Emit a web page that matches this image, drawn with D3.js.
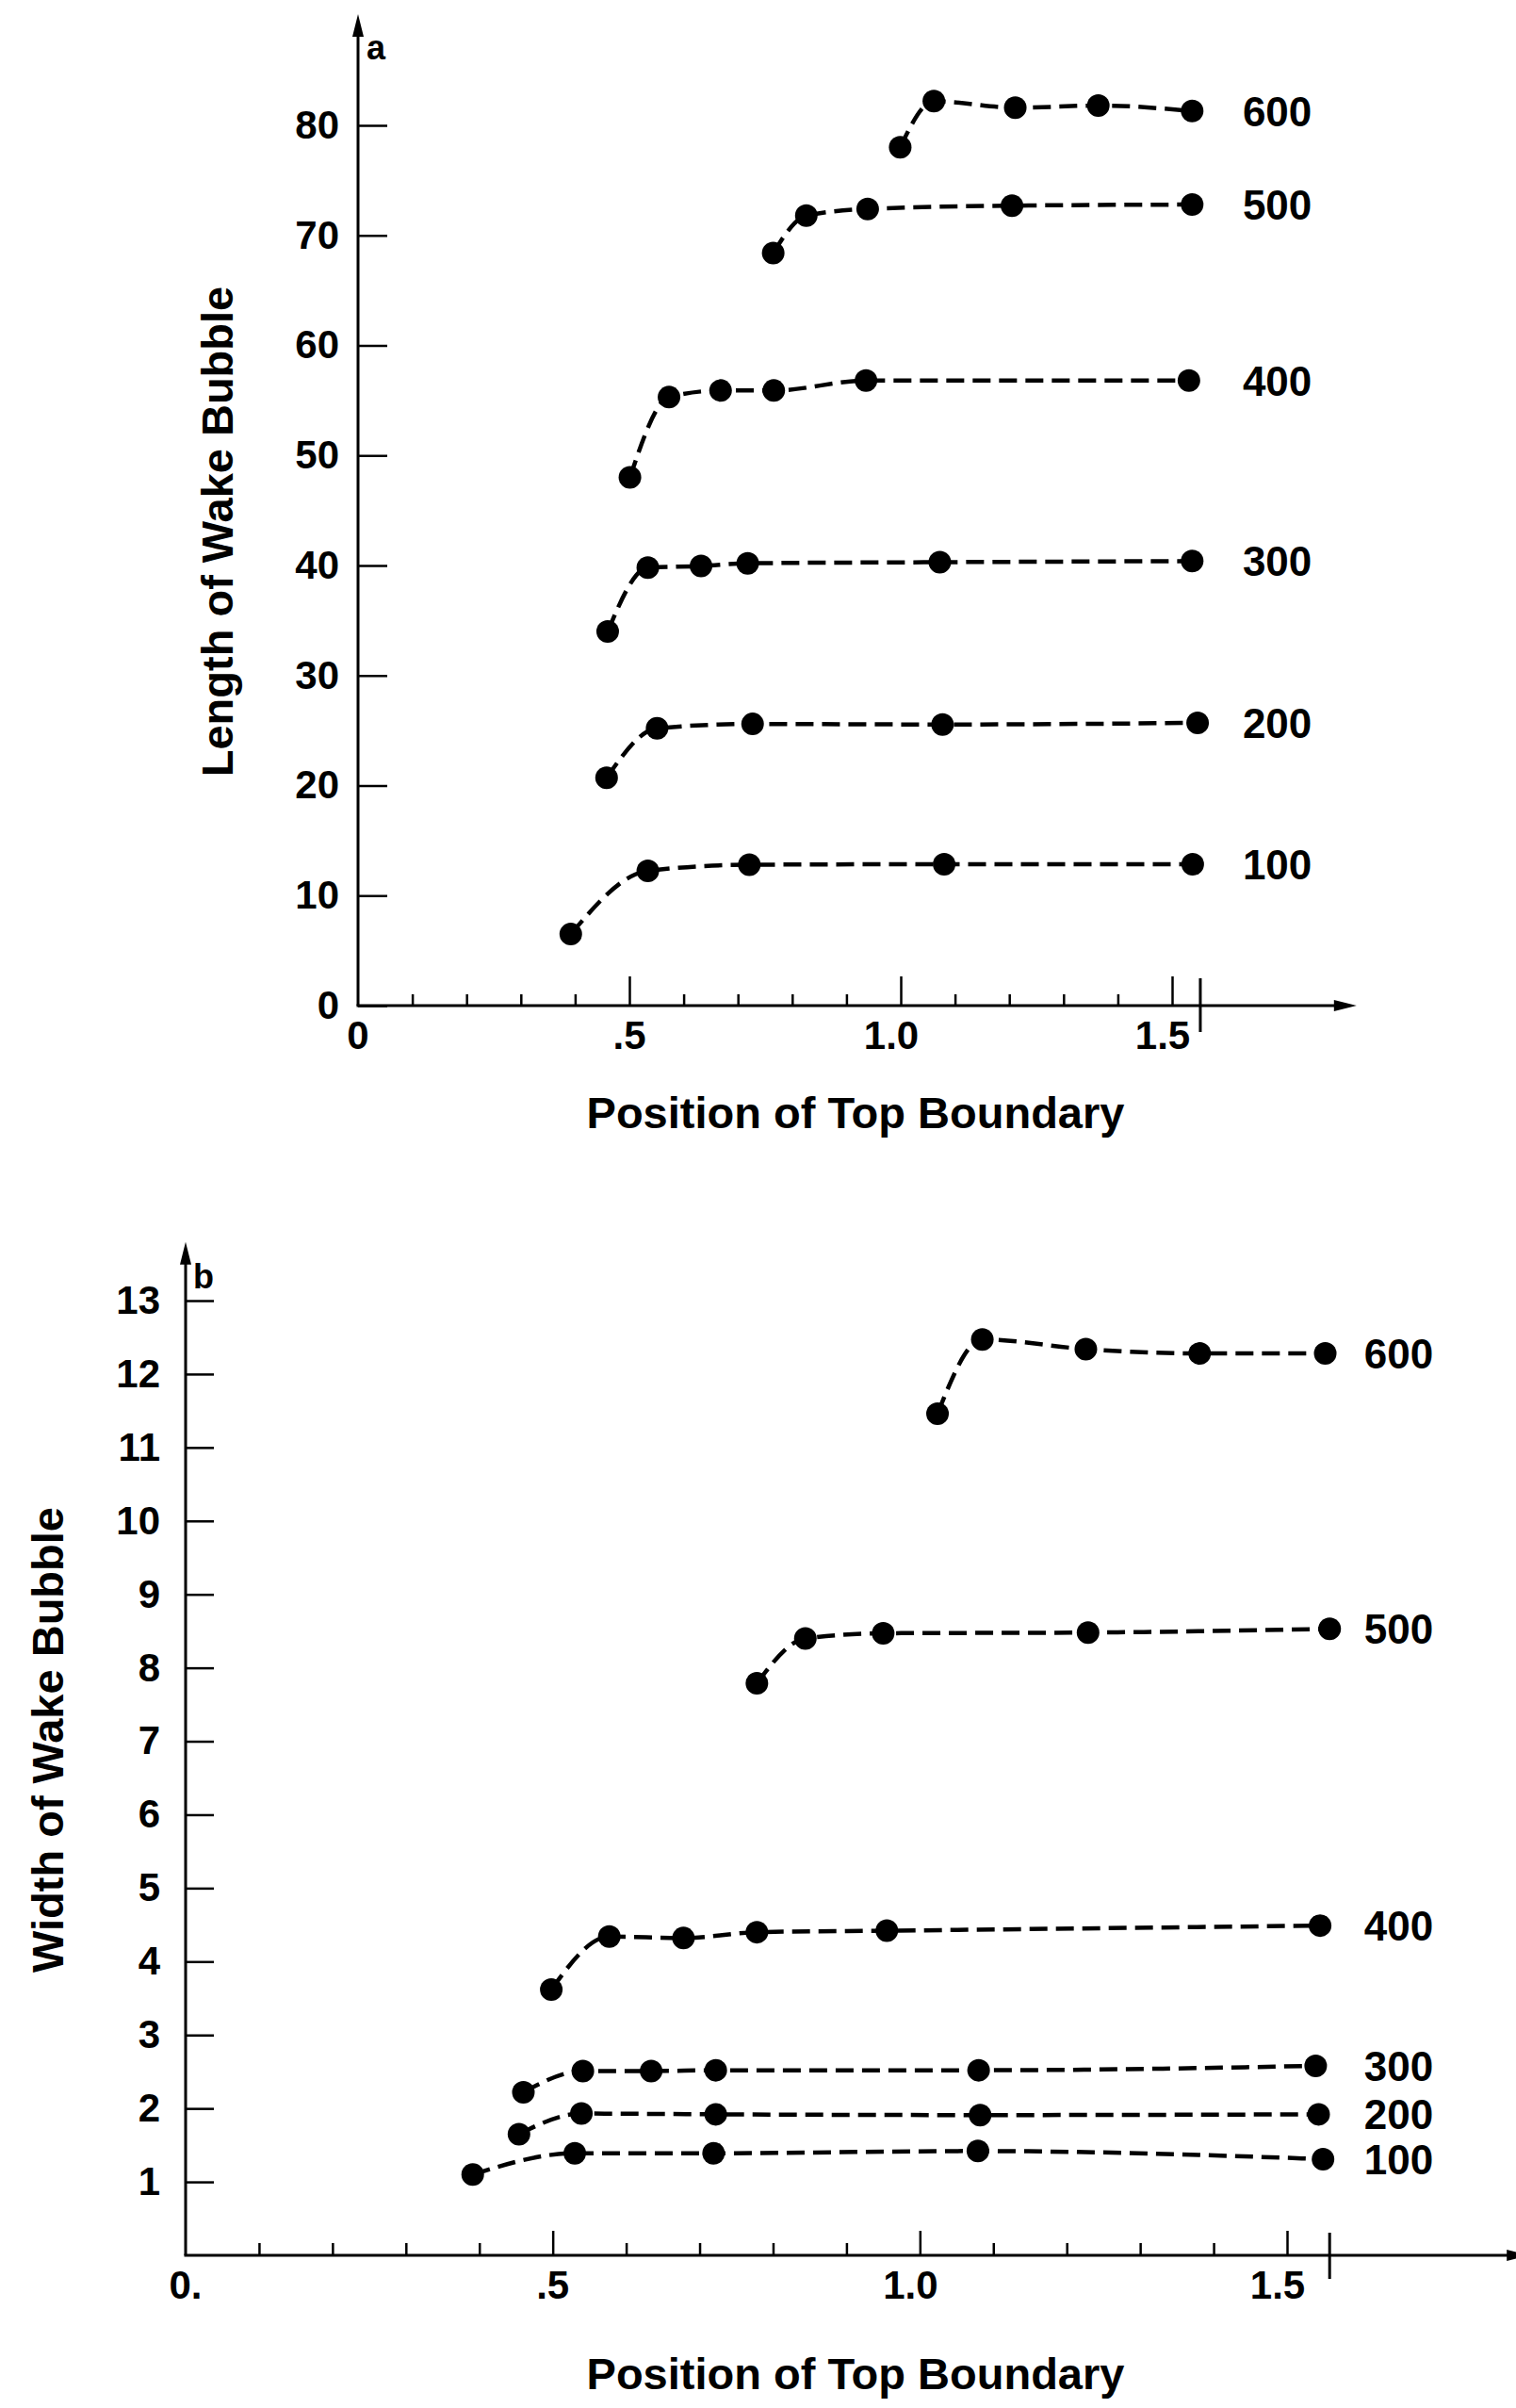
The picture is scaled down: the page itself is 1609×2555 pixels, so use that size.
<!DOCTYPE html>
<html>
<head>
<meta charset="utf-8">
<script src="https://cdn.jsdelivr.net/npm/d3@7"></script>
<style>
  html, body { margin: 0; padding: 0; background: #fff; }
  svg { display: block; }
  text { font-family: "Liberation Sans", Arial, Helvetica, sans-serif; font-weight: bold; fill: #000; }
</style>
</head>
<body>
<script>
// Reynolds numbers labelling each curve
const reynolds = [100, 200, 300, 400, 500, 600];

// Panel a: length of the wake bubble vs. position of the top boundary
const lenX100 = [0.392, 0.534, 0.721, 1.080, 1.538];
const lenY100 = [6.5, 12.25, 12.8, 12.85, 12.85];
const lenX200 = [0.458, 0.551, 0.727, 1.077, 1.547];
const lenY200 = [20.7, 25.2, 25.6, 25.55, 25.7];
const lenX300 = [0.460, 0.534, 0.632, 0.718, 1.072, 1.537];
const lenY300 = [34.0, 39.8, 39.95, 40.2, 40.3, 40.4];
const lenX400 = [0.501, 0.573, 0.668, 0.766, 0.936, 1.531];
const lenY400 = [48.0, 55.3, 55.9, 55.9, 56.8, 56.8];
const lenX500 = [0.765, 0.826, 0.939, 1.205, 1.537];
const lenY500 = [68.4, 71.8, 72.4, 72.7, 72.8];
const lenX600 = [0.999, 1.061, 1.211, 1.364, 1.537];
const lenY600 = [78.0, 82.2, 81.6, 81.8, 81.3];

// Panel b: width of the wake bubble vs. position of the top boundary
const widX100 = [0.391, 0.530, 0.719, 1.079, 1.549];
const widY100 = [1.10, 1.39, 1.39, 1.42, 1.31];
const widX200 = [0.454, 0.539, 0.722, 1.082, 1.543];
const widY200 = [1.65, 1.93, 1.92, 1.91, 1.92];
const widX300 = [0.460, 0.541, 0.634, 0.722, 1.080, 1.539];
const widY300 = [2.22, 2.51, 2.51, 2.52, 2.52, 2.58];
const widX400 = [0.498, 0.577, 0.678, 0.778, 0.955, 1.545];
const widY400 = [3.62, 4.34, 4.32, 4.40, 4.42, 4.49];
const widX500 = [0.778, 0.844, 0.950, 1.229, 1.558];
const widY500 = [7.79, 8.40, 8.47, 8.48, 8.53];
const widX600 = [1.024, 1.085, 1.226, 1.381, 1.552];
const widY600 = [11.46, 12.47, 12.34, 12.28, 12.28];

// Tick values and their printed labels
const xTickValues = [0.1, 0.2, 0.3, 0.4, 0.5, 0.6, 0.7, 0.8, 0.9, 1.0, 1.1, 1.2, 1.3, 1.4, 1.5];
const xMajorValues = [0, 0.5, 1.0, 1.5];
const xLabelsA = ["0", ".5", "1.0", "1.5"];
const xLabelsB = ["0.", ".5", "1.0", "1.5"];
const yTicksA = [0, 10, 20, 30, 40, 50, 60, 70, 80];
const yTicksB = [1, 2, 3, 4, 5, 6, 7, 8, 9, 10, 11, 12, 13];

const W = 1609, H = 2555;
const svg = d3.select("body").append("svg").attr("width", W).attr("height", H);
svg.append("rect").attr("width", W).attr("height", H).attr("fill", "#fff");

function zip(xs, ys) { return xs.map((v, i) => [v, ys[i]]); }

function drawPanel(cfg) {
  const { x, y, series, xLabels, yTicks, yTickLen, yPad, xMinor, xMajor, xEnd, yEnd,
          cross, crossUp, crossDown, labelX, panelLetter, letterPos, xTitleY, yTitle, yTitlePos } = cfg;
  const g = svg.append("g");
  const x0 = x(0), y0 = y(0);

  // axis lines with arrowheads
  g.append("line").attr("x1", x0).attr("x2", x0).attr("y1", y0).attr("y2", y(yEnd) + 8)
    .attr("stroke", "#000").attr("stroke-width", 3);
  g.append("path")
    .attr("d", `M${x0},${y(yEnd)} L${x0 - 6},${y(yEnd) + 24} L${x0 + 6},${y(yEnd) + 24} Z`)
    .attr("fill", "#000");
  g.append("line").attr("x1", x0 - 1.5).attr("x2", x(xEnd) - 8).attr("y1", y0).attr("y2", y0)
    .attr("stroke", "#000").attr("stroke-width", 3);
  g.append("path")
    .attr("d", `M${x(xEnd)},${y0} L${x(xEnd) - 24},${y0 - 6} L${x(xEnd) - 24},${y0 + 6} Z`)
    .attr("fill", "#000");

  // x ticks pointing up into the plot
  const xAxis = d3.axisBottom(x).tickValues(xTickValues).tickSize(-xMinor).tickFormat("");
  const xa = g.append("g").attr("transform", `translate(0,${y0})`).call(xAxis);
  xa.select(".domain").remove();
  xa.selectAll(".tick line").attr("stroke", "#000").attr("stroke-width", 2.5)
    .filter(d => Math.abs(d * 2 - Math.round(d * 2)) < 1e-9)
    .attr("y2", -xMajor);

  // x tick labels
  g.selectAll(".xlab").data(xMajorValues).join("text")
    .attr("x", d => x(d)).attr("y", y0 + 46)
    .attr("dx", (d, i) => xLabels[i].charAt(0) === "1" ? -10 : 0)
    .attr("text-anchor", "middle").attr("font-size", 42)
    .text((d, i) => xLabels[i]);

  // boundary marker across the x axis
  g.append("line").attr("x1", x(cross)).attr("x2", x(cross))
    .attr("y1", y0 - crossUp).attr("y2", y0 + crossDown)
    .attr("stroke", "#000").attr("stroke-width", 3);

  // y ticks pointing right, labels to the left
  const yAxis = d3.axisLeft(y).tickValues(yTicks).tickSize(-yTickLen).tickPadding(yPad).tickFormat(d3.format("d"));
  const ya = g.append("g").attr("transform", `translate(${x0},0)`).call(yAxis);
  ya.select(".domain").remove();
  ya.selectAll(".tick line").attr("stroke", "#000").attr("stroke-width", 2.5);
  ya.selectAll(".tick text")
    .style("font-family", '"Liberation Sans", Arial, sans-serif')
    .style("font-weight", "bold").attr("font-size", 42).attr("fill", "#000");

  // panel letter
  g.append("text").attr("x", letterPos[0]).attr("y", letterPos[1])
    .attr("font-size", 36).text(panelLetter);

  // axis titles
  g.append("text").attr("x", 908).attr("y", xTitleY)
    .attr("text-anchor", "middle").attr("font-size", 47).text("Position of Top Boundary");
  g.append("text").attr("transform", `translate(${yTitlePos[0]},${yTitlePos[1]}) rotate(-90)`)
    .attr("text-anchor", "middle").attr("font-size", 47).text(yTitle);

  // curves, dots and Reynolds-number labels
  const line = d3.line().x(d => x(d[0])).y(d => y(d[1])).curve(d3.curveMonotoneX);
  series.forEach((pts, i) => {
    g.append("path").attr("d", line(pts)).attr("fill", "none")
      .attr("stroke", "#000").attr("stroke-width", 4.5)
      .attr("stroke-dasharray", "19,9");
    g.selectAll(null).data(pts).join("circle")
      .attr("cx", d => x(d[0])).attr("cy", d => y(d[1])).attr("r", 12).attr("fill", "#000");
    const last = pts[pts.length - 1];
    g.append("text").attr("x", x(labelX)).attr("y", y(last[1])).attr("dy", "0.36em")
      .attr("font-size", 44).text(reynolds[i]);
  });
}

drawPanel({
  x: d3.scaleLinear().domain([0, 1.5]).range([380, 1244]),
  y: d3.scaleLinear().domain([0, 80]).range([1067, 133]),
  series: [zip(lenX100, lenY100), zip(lenX200, lenY200), zip(lenX300, lenY300),
           zip(lenX400, lenY400), zip(lenX500, lenY500), zip(lenX600, lenY600)],
  xLabels: xLabelsA, yTicks: yTicksA, yTickLen: 31, yPad: 20,
  xMinor: 12, xMajor: 31, xEnd: 1.84, yEnd: 90.1,
  cross: 1.552, crossUp: 29, crossDown: 28, labelX: 1.63,
  panelLetter: "a", letterPos: [389, 63],
  xTitleY: 1197, yTitle: "Length of Wake Bubble", yTitlePos: [247, 564]
});

drawPanel({
  x: d3.scaleLinear().domain([0, 1.5]).range([197, 1366]),
  y: d3.scaleLinear().domain([0, 13]).range([2393, 1380]),
  series: [zip(widX100, widY100), zip(widX200, widY200), zip(widX300, widY300),
           zip(widX400, widY400), zip(widX500, widY500), zip(widX600, widY600)],
  xLabels: xLabelsB, yTicks: yTicksB, yTickLen: 30, yPad: 27,
  xMinor: 13, xMajor: 26, xEnd: 1.83, yEnd: 13.8,
  cross: 1.558, crossUp: 24, crossDown: 25, labelX: 1.605,
  panelLetter: "b", letterPos: [205, 1367],
  xTitleY: 2535, yTitle: "Width of Wake Bubble", yTitlePos: [67, 1846]
});
</script>
</body>
</html>
